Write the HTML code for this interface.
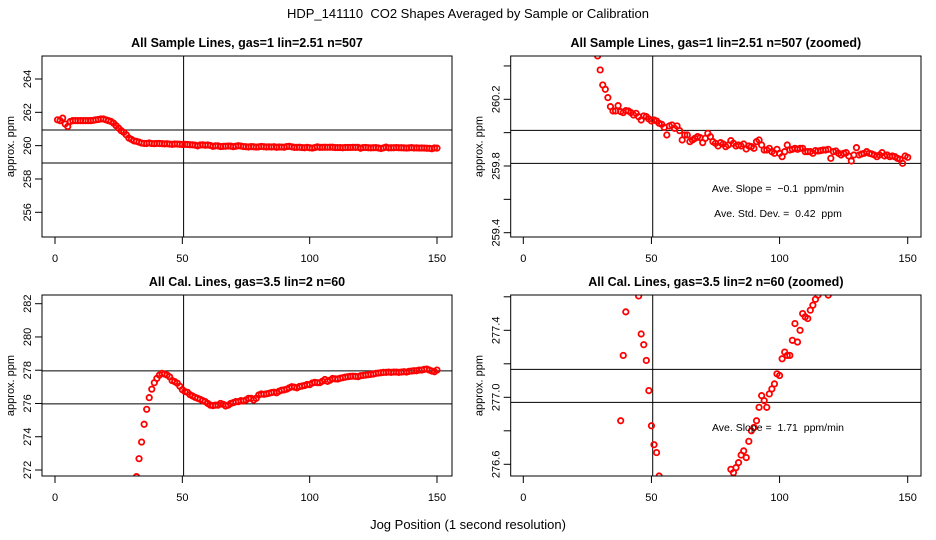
<!DOCTYPE html>
<html><head><meta charset="utf-8"><style>
html,body{margin:0;padding:0;background:#fff;width:936px;height:540px;overflow:hidden;}
svg{display:block;font-family:"Liberation Sans",Arial,sans-serif;}
text{white-space:pre;}
</style></head><body>
<svg id="chart" width="936" height="540" viewBox="0 0 936 540">
<text x="468" y="18" text-anchor="middle" font-size="13">HDP_141110  CO2 Shapes Averaged by Sample or Calibration</text>
<text x="468" y="529" text-anchor="middle" font-size="13">Jog Position (1 second resolution)</text>
</svg>
<script>
// ---- data ----
const positions = Array.from({length:150},(_,i)=>i+1);
const sampleValues = [261.55,261.5,261.65,261.3,261.15,261.45,261.5,261.5,261.5,261.5,261.5,261.5,261.5,261.5,261.52,261.55,261.57,261.6,261.6,261.55,261.5,261.45,261.35,261.2,261.05,260.9,260.8,260.65,
260.46,260.376,260.286,260.26,260.21,260.156,260.13,260.13,260.162,260.126,260.12,260.132,260.13,260.12,260.106,260.116,260.096,260.076,260.1,260.096,260.082,260.07,
260.076,260.07,260.056,260.05,260.032,259.986,260.04,260.046,260.026,260.04,260.012,259.956,259.986,259.986,259.946,259.956,259.966,259.976,259.97,259.94,
259.966,259.996,259.976,259.946,259.936,259.92,259.94,259.932,259.916,259.926,259.952,259.936,259.92,259.926,259.92,259.932,259.902,259.92,259.916,259.906,
259.946,259.956,259.926,259.896,259.896,259.906,259.886,259.876,259.9,259.876,259.856,259.886,259.926,259.896,259.9,259.906,259.9,259.906,259.906,259.886,
259.886,259.886,259.876,259.892,259.89,259.892,259.896,259.896,259.9,259.846,259.886,259.89,259.876,259.866,259.876,259.88,259.86,259.83,259.866,259.91,
259.866,259.872,259.876,259.886,259.876,259.872,259.866,259.856,259.866,259.88,259.86,259.866,259.856,259.86,259.856,259.846,259.84,259.816,259.86,259.852];
const calValues = [null,null,null,null,null,null,null,null,null,null,null,null,null,null,null,null,null,null,null,null,null,null,null,null,null,null,null,null,null,null,null,
271.6,272.68,273.68,274.75,275.65,276.35,276.86,277.25,277.51,277.71,277.81,277.77,277.71,277.605,277.378,277.314,277.22,277.04,276.83,276.717,276.67,276.53,276.45,276.37,276.31,276.25,276.17,276.11,276.0,
275.9,275.87,275.9,275.9,276.0,275.95,275.85,275.9,276.0,276.05,276.11,276.11,276.17,276.15,276.21,276.31,276.31,276.21,276.31,276.51,
276.57,276.55,276.58,276.61,276.655,276.68,276.64,276.737,276.8,276.82,276.86,276.94,277.01,276.98,276.94,277.02,277.05,277.08,277.14,277.13,
277.23,277.27,277.25,277.25,277.34,277.44,277.33,277.40,277.5,277.48,277.47,277.52,277.55,277.585,277.61,277.63,277.64,277.63,277.61,277.67,
277.69,277.71,277.73,277.75,277.77,277.81,277.83,277.85,277.87,277.87,277.89,277.87,277.89,277.89,277.87,277.89,277.91,277.89,277.93,277.95,
277.97,277.97,278.01,278.01,278.05,278.07,278.01,277.95,277.91,278.01];
const xTicks = [0,50,100,150];
const p1YTicks = [256,258,260,262,264];
const p2YTicks = [259.4,259.6,259.8,260.0,260.2,260.4];
const p2YLabels = ["259.4","","259.8","","260.2",""];
const p3YTicks = [272,274,276,278,280,282];
const p4YTicks = [276.6,276.8,277.0,277.2,277.4,277.6];
const p4YLabels = ["276.6","","277.0","","277.4",""];
const p1HLines = [260.94,258.96];
const p2HLines = [260.014,259.816];
const p3HLines = [277.96,275.98];
const p4HLines = [277.167,276.97];
const vLine = 50.5;

const NS="http://www.w3.org/2000/svg";
const svg=document.getElementById('chart');
function mk(tag,attrs,parent){const e=document.createElementNS(NS,tag);for(const k in attrs)e.setAttribute(k,attrs[k]);(parent||svg).appendChild(e);return e;}

function panel(cfg){
  const g=mk('g',{});
  
  
  const L=cfg.box[0],R=cfg.box[1],T=cfg.box[2],B=cfg.box[3];
  const sx=v=>cfg.x0px+(v-0)*(cfg.x150px-cfg.x0px)/150;
  const sy=v=>cfg.yApx+(v-cfg.yA)*(cfg.yBpx-cfg.yApx)/(cfg.yB-cfg.yA);
  const clip='clip-'+cfg.name;
  const cp=mk('clipPath',{id:clip},g);mk('rect',{x:L,y:T,width:R-L,height:B-T},cp);
  const t=mk('text',{x:(L+R)/2,y:T-9,'text-anchor':'middle','font-size':12.5,'font-weight':'bold'},g);
  t.textContent=cfg.title;
  
  
  const yl=mk('text',{x:0,y:0,'text-anchor':'middle','font-size':11,transform:`translate(${L-28},${(T+B)/2}) rotate(-90)`},g);
  yl.textContent='approx. ppm';
  
  
  xTicks.forEach(v=>{
    const x=sx(v);
    const ln=mk('line',{x1:x,x2:x,y1:B,y2:B+7,stroke:'#000','stroke-width':1},g);
    
    
    const tx=mk('text',{x:x,y:B+25,'text-anchor':'middle','font-size':11},g);
    tx.textContent=String(v);
    
    
  });
  cfg.yTicks.forEach((v,i)=>{
    const y=sy(v);
    const ln=mk('line',{x1:L-7,x2:L,y1:y,y2:y,stroke:'#000','stroke-width':1},g);
    
    
    const lab=cfg.yLabels?cfg.yLabels[i]:String(v);
    if(lab){
      const tx=mk('text',{x:0,y:0,'text-anchor':'middle','font-size':11,transform:`translate(${L-11},${y}) rotate(-90)`},g);
      tx.textContent=lab;
      
      
    }
  });
  cfg.hLines.forEach(v=>{
    const ln=mk('line',{x1:L,x2:R,y1:sy(v),y2:sy(v),stroke:'#000','stroke-width':1},g);
    
    
  });
  const vl=mk('line',{x1:sx(vLine),x2:sx(vLine),y1:T,y2:B,stroke:'#000','stroke-width':1},g);
  
  
  const pts=mk('g',{'clip-path':`url(#${clip})`},g);
  cfg.values.forEach((v,i)=>{
    if(v===null)return;
    const c=mk('circle',{cx:sx(positions[i]),cy:sy(v),r:2.7,fill:'none',stroke:'#ff0000','stroke-width':1.8},pts);
    
    
  });
  const box=mk('rect',{x:L,y:T,width:R-L,height:B-T,fill:'none',stroke:'#000','stroke-width':1},g);
  
  
  (cfg.notes||[]).forEach(n=>{
    const tx=mk('text',{x:n[0],y:n[1],'text-anchor':'middle','font-size':10.5},g);
    tx.textContent=n[2];
    
    
  });
}
panel({name:'panel-all-sample',title:'All Sample Lines, gas=1 lin=2.51 n=507',box:[42,452,56,237],x0px:55,x150px:437,yA:264,yApx:79,yB:256,yBpx:212.3,yTicks:p1YTicks,hLines:p1HLines,values:sampleValues});
panel({name:'panel-sample-zoomed',title:'All Sample Lines, gas=1 lin=2.51 n=507 (zoomed)',box:[510.7,921,56,237],x0px:523.3,x150px:907.7,yA:260.2,yApx:99.3,yB:259.4,yBpx:232.7,yTicks:p2YTicks,yLabels:p2YLabels,hLines:p2HLines,values:sampleValues,
  notes:[[778,192,'Ave. Slope =  \u22120.1  ppm/min'],[778,217,'Ave. Std. Dev. =  0.42  ppm']]});
panel({name:'panel-all-cal',title:'All Cal. Lines, gas=3.5 lin=2 n=60',box:[42,452,295,476],x0px:55,x150px:437,yA:282,yApx:303.7,yB:272,yBpx:470,yTicks:p3YTicks,hLines:p3HLines,values:calValues});
panel({name:'panel-cal-zoomed',title:'All Cal. Lines, gas=3.5 lin=2 n=60 (zoomed)',box:[510.7,921,295,476],x0px:523.3,x150px:907.7,yA:277.4,yApx:330.3,yB:276.6,yBpx:464.3,yTicks:p4YTicks,yLabels:p4YLabels,hLines:p4HLines,values:calValues,
  notes:[[778,431,'Ave. Slope =  1.71  ppm/min']]});
</script>
</body></html>
